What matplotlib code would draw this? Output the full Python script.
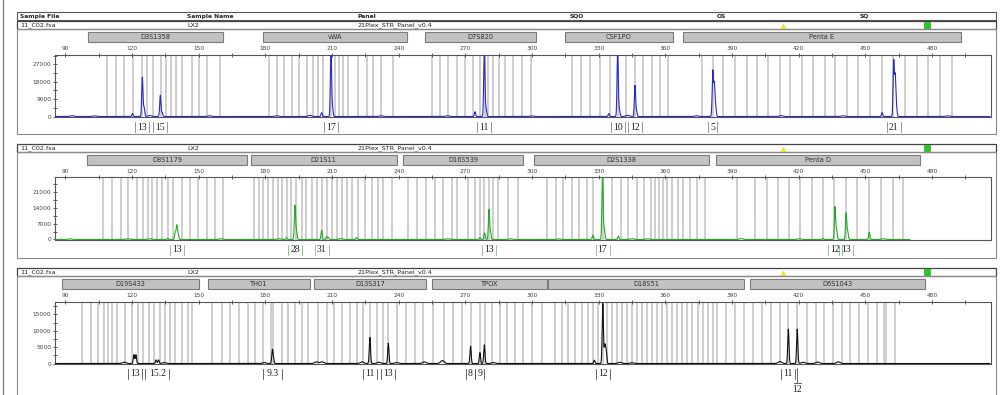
import numpy as np
import matplotlib.pyplot as plt
from matplotlib.patches import Rectangle
from matplotlib.transforms import blended_transform_factory

# header table
header_cols = ["Sample File", "Sample Name", "Panel", "SQO", "OS", "SQ"]
row_vals = ["11_C02.fsa", "LX2", "21Plex_STR_Panel_v0.4"]

# size axis (bp)
size_ticks = [90, 120, 150, 180, 210, 240, 270, 300, 330, 360, 390, 420, 450, 480]
size_minor = [105, 135, 165, 195, 225, 255, 285, 315, 345, 375, 405, 435, 465, 495]

# ---- panel 1 (blue dye)
p1_markers = ["D3S1358", "vWA", "D7S820", "CSF1PO", "Penta E"]
p1_marker_lo = [100.0, 179.0, 251.7, 314.8, 367.8]
p1_marker_hi = [161.0, 243.7, 301.7, 363.3, 493.0]
p1_bins = [108.5, 112.7, 116.3, 120.2, 124.3, 126.5, 129.2, 133.0, 135.1, 137.3, 139.7, 142.3, 146.8, 150.2, 153.5, 159.5,
           181.7, 185.0, 188.3, 191.8, 195.1, 198.5, 201.5, 203.8, 205.7, 209.5, 211.3, 213.1, 215.0, 217.3, 221.8, 225.6,
           228.5, 232.0, 237.5,
           254.8, 258.5, 262.3, 266.0, 269.8, 273.3, 276.5, 278.8, 280.3, 282.5, 285.1, 287.8, 291.5, 295.3, 299.3,
           317.8, 322.0, 326.0, 330.5, 335.0, 338.5, 342.2, 346.3, 350.0, 353.8, 357.5, 361.3,
           376.3, 381.5, 386.0, 391.3, 396.5, 401.0, 406.3, 411.5, 416.0, 421.3, 426.5, 431.8, 436.3, 441.5, 446.8, 452.0,
           457.3, 462.5, 467.8, 473.0, 478.3, 483.5, 488.8]
p1_peak_bp = [120.2, 124.6, 125.4, 132.7, 133.5, 205.3, 209.5, 210.2, 274.3, 278.5, 279.3,
              334.5, 338.5, 339.3, 346.3, 347.0, 381.3, 382.0, 382.6, 457.5, 462.7, 463.4, 464.0]
p1_peak_rfu = [1500, 20300, 4700, 10900, 2000, 2000, 34000, 4000, 2500, 34000, 4000,
               1500, 34000, 3500, 16000, 2500, 23400, 16600, 5000, 2000, 28600, 20800, 4000]
p1_bump_bp = [93, 103, 128, 155, 185, 200, 232, 262, 300, 343, 374, 412, 440, 487]
p1_bump_rfu = [400, 350, 500, 400, 400, 600, 350, 400, 300, 600, 400, 500, 400, 350]
p1_alleles = ["13", "15", "17", "11", "10", "12", "5", "21"]
p1_allele_bp = [124.6, 132.7, 209.5, 278.5, 338.5, 346.3, 381.3, 462.7]
p1_yticks = [0, 9000, 18000, 27000]

# ---- panel 2 (green dye)
p2_markers = ["D8S1179", "D21S11", "D16S539", "D2S1338", "Penta D"]
p2_marker_lo = [99.8, 173.3, 242.0, 300.8, 382.7]
p2_marker_hi = [171.5, 239.0, 295.7, 379.7, 474.5]
p2_bins = [107.0, 111.1, 114.8, 118.0, 122.0, 125.0, 127.0, 128.8, 131.0, 133.3, 136.0, 138.5, 142.3, 146.0, 149.8,
           153.5, 157.3, 161.0,
           175.0, 177.1, 179.0, 181.3, 183.5, 185.5, 187.3, 189.5, 191.5, 193.6, 196.3, 198.1, 200.8, 203.0, 205.3,
           207.5, 209.8, 212.0, 214.3, 216.5, 218.8, 221.8, 224.8, 227.8, 230.8, 233.0, 237.1,
           244.0, 248.0, 252.1, 256.3, 260.0, 263.8, 266.0, 271.0, 274.3, 276.5, 278.5, 280.6, 282.5, 284.8, 289.3, 293.5,
           306.6, 310.6, 314.0, 317.8, 321.2, 324.5, 327.5, 332.0, 335.8, 340.0, 343.3, 347.0, 350.5, 353.5, 355.3,
           357.1, 359.0, 360.5, 362.8, 365.5, 368.0, 371.0, 374.0, 377.8,
           392.0, 400.3, 405.5, 410.8, 415.7, 420.5, 425.8, 431.0, 436.0, 441.1, 446.3, 451.7, 457.0, 462.2, 467.0]
p2_peak_bp = [136.0, 139.4, 140.1, 140.7, 189.5, 193.3, 194.0, 205.3, 207.5, 208.3, 221.0,
              276.5, 278.6, 280.6, 281.3, 327.3, 331.7, 332.5, 338.8,
              431.0, 436.3, 437.0, 441.3, 442.0, 451.7]
p2_peak_rfu = [500, 3000, 6100, 2500, 700, 14900, 3500, 4000, 1200, 900, 800,
               800, 2900, 13100, 2900, 1900, 29000, 4400, 1500,
               500, 14300, 4000, 11600, 3500, 3200]
p2_bump_bp = [92, 118, 128, 160, 186, 214, 262, 290, 312, 345, 352, 394, 420, 458]
p2_bump_rfu = [300, 300, 350, 300, 300, 400, 300, 300, 250, 350, 300, 400, 300, 300]
p2_alleles = ["13", "28", "31", "13", "17", "12", "13"]
p2_allele_bp = [140.1, 193.3, 205.3, 280.6, 331.7, 436.3, 441.3]
p2_yticks = [0, 7000, 14000, 21000]

# ---- panel 3 (black/yellow dye)
p3_markers = ["D19S433", "TH01", "D13S317", "TPOX", "D18S51", "D6S1043"]
p3_marker_lo = [88.4, 154.1, 201.8, 254.9, 307.1, 398.0]
p3_marker_hi = [150.1, 200.0, 252.2, 306.7, 395.3, 476.8]
p3_bins = [97.3, 101.5, 104.8, 107.3, 109.3, 111.1, 113.0, 116.8, 120.1, 122.8, 125.0, 127.6, 130.0, 132.5, 134.8,
           137.0, 139.3, 142.3, 145.3, 146.8,
           156.1, 160.3, 164.0, 168.1, 172.0, 175.3, 179.0, 182.5, 183.5, 187.3, 190.3, 193.3, 196.3, 199.3,
           203.8, 207.5, 211.0, 214.3, 218.0, 221.0, 224.0, 227.0, 230.0, 233.0, 235.3, 239.0, 243.1, 247.3, 251.0,
           255.5, 260.5, 264.5, 268.6, 272.5, 276.5, 278.8, 281.8, 285.5, 288.5, 292.3, 296.0, 299.8, 304.3,
           310.3, 313.3, 316.3, 319.3, 322.3, 325.3, 327.5, 329.8, 332.0, 333.5, 335.8, 338.0, 340.3, 342.5, 344.8,
           347.0, 349.3, 351.5, 353.8, 356.0, 358.3, 360.5, 362.8, 365.0, 367.3, 369.5, 371.8, 374.8, 377.0, 379.3,
           381.5, 383.3, 387.2, 391.3, 395.3,
           399.3, 403.3, 407.3, 411.5, 415.3, 419.3, 423.5, 427.7, 431.3, 435.2, 439.3, 443.0, 447.2, 451.3, 455.0,
           458.3, 459.2, 463.3]
p3_peak_bp = [120.8, 121.7, 130.8, 131.9, 183.1, 183.6, 227.0, 235.3,
              272.3, 276.5, 278.5, 328.0, 331.8, 332.7, 333.3, 415.3, 419.3]
p3_peak_rfu = [2700, 2700, 1100, 1100, 4000, 1500, 8000, 6200,
               5300, 3300, 5700, 1000, 18300, 5500, 4000, 10500, 10500]
p3_bump_bp = [116.5, 134.5, 179.5, 203.0, 205.5, 223.5, 231.0, 239.0, 251.5, 259.6, 282.5, 339.5, 345.0,
              411.5, 422.0, 428.5, 437.8]
p3_bump_rfu = [400, 300, 300, 500, 500, 500, 400, 300, 500, 900, 300, 400, 250, 600, 400, 450, 500]
p3_alleles = ["13", "15.2", "9.3", "11", "13", "8", "9", "12", "11", "12"]
p3_allele_bp = [121.3, 131.4, 183.1, 227.0, 235.3, 272.3, 276.5, 332.0, 415.3, 419.3]
p3_allele_row = [0, 0, 0, 0, 0, 0, 0, 0, 0, 1]
p3_yticks = [0, 5000, 10000, 15000]

panels = [
    dict(markers=p1_markers, lo=p1_marker_lo, hi=p1_marker_hi, bins=p1_bins,
         pk=p1_peak_bp, pr=p1_peak_rfu, bk=p1_bump_bp, br=p1_bump_rfu,
         al=p1_alleles, ab=p1_allele_bp, row=[0] * len(p1_alleles), yt=p1_yticks,
         ylim=(-250, 32100), color="#2828cc", lcol="#8080b0", end=506, top=21.0, box=105.5),
    dict(markers=p2_markers, lo=p2_marker_lo, hi=p2_marker_hi, bins=p2_bins,
         pk=p2_peak_bp, pr=p2_peak_rfu, bk=p2_bump_bp, br=p2_bump_rfu,
         al=p2_alleles, ab=p2_allele_bp, row=[0] * len(p2_alleles), yt=p2_yticks,
         ylim=(-220, 27200), color="#22aa22", lcol="#80c080", end=470, top=144.0, box=106.5),
    dict(markers=p3_markers, lo=p3_marker_lo, hi=p3_marker_hi, bins=p3_bins,
         pk=p3_peak_bp, pr=p3_peak_rfu, bk=p3_bump_bp, br=p3_bump_rfu,
         al=p3_alleles, ab=p3_allele_bp, row=p3_allele_row, yt=p3_yticks,
         ylim=(-150, 18950), color="#111111", lcol="#505050", end=506, top=268.0, box=140.0),
]

W, H = 1000, 395
PX_PER_BP = 2.2222
fig = plt.figure(figsize=(10, 3.95), dpi=100)
fig.patch.set_facecolor("white")

# overlay in pixel coords for frames and header
ov = fig.add_axes([0, 0, 1, 1])
ov.set_xlim(0, W)
ov.set_ylim(H, 0)
ov.axis("off")

ov.plot([3, 3], [0, H], color="#808080", lw=1.0)
ov.add_patch(Rectangle((17, 11.7), 979, 8.6, fill=False, ec="#555555", lw=0.8))
for t, x in zip(header_cols, [20, 187, 358, 570, 717, 860]):
    ov.text(x, 18.0, t, fontsize=4.3, weight="bold", va="baseline", color="#222222")

x = np.linspace(84, 507, 12000)

for p in panels:
    rt = p["top"]
    # sample row
    ov.add_patch(Rectangle((17, rt), 979, 7.5, fill=False, ec="#444444", lw=0.9))
    for t, xx in zip(row_vals, [20, 187, 358]):
        ov.text(xx, rt + 5.6, t, fontsize=4.6, va="baseline", color="#222222")
    ov.plot(783, rt + 4.6, marker="^", ms=3.2, color="#f2f200", mec="#d8d800", mew=0.4)
    ov.plot(927, rt + 3.6, marker="s", ms=4.3, color="#22cc22", mec="#119911", mew=0.4)
    ov.add_patch(Rectangle((17, rt + 7.5), 979, p["box"], fill=False, ec="#8a8a8a", lw=0.8))

    pb = rt + 96.0   # plot bottom px
    ph = 62.5        # plot height px
    ax = fig.add_axes([55 / W, 1 - pb / H, 936 / W, ph / H])
    ax.set_xlim(85.3, 506.5)
    ax.set_ylim(*p["ylim"])

    def ay(py):
        return (pb - py) / ph

    tr = blended_transform_factory(ax.transData, ax.transAxes)

    for b in p["bins"]:
        ax.axvline(b, color="#c4c4c4", lw=1.15, zorder=1)

    y = np.zeros_like(x)
    for c, a in zip(p["pk"], p["pr"]):
        y += a * np.exp(-0.5 * ((x - c) / 0.28) ** 2)
    for c, a in zip(p["bk"], p["br"]):
        y += a * np.exp(-0.5 * ((x - c) / 0.8) ** 2)
    m = x <= p["end"]
    ax.plot(x[m], y[m], color=p["color"], lw=0.8, zorder=3)

    ax.xaxis.tick_top()
    ax.set_xticks(size_ticks)
    ax.set_xticks(size_minor, minor=True)
    ax.set_yticks(p["yt"])
    ax.set_yticks([v + (p["yt"][1] - p["yt"][0]) / 2 for v in p["yt"]], minor=True)
    ax.tick_params(axis="x", which="both", direction="inout", length=3, width=0.6,
                   pad=1.2, labelsize=4.2, colors="#444444")
    ax.tick_params(axis="y", which="both", direction="inout", length=3, width=0.6,
                   pad=1.0, labelsize=4.2, colors="#444444")
    for s in ax.spines.values():
        s.set_color("#555555")
        s.set_linewidth(0.8)

    # marker bars
    for name, lo, hi in zip(p["markers"], p["lo"], p["hi"]):
        ax.add_patch(Rectangle((lo, ay(rt + 20.8)), hi - lo, ay(rt + 11.3) - ay(rt + 20.8),
                               transform=tr, clip_on=False, fc="#c2c2c2", ec="#7a7a7a", lw=0.8))
        ax.text((lo + hi) / 2, ay(rt + 16.0), name, transform=tr, ha="center", va="center",
                fontsize=4.8, color="#333333", clip_on=False)

    # allele calls
    ly = rt + 106.0
    for t, b, r in zip(p["al"], p["ab"], p["row"]):
        hw = (2.5 * len(t) + 2.0) / PX_PER_BP
        if r == 0:
            for xe in (b - hw, b + hw):
                ax.plot([xe, xe], [ay(ly - 5), ay(ly + 5)], transform=tr, clip_on=False,
                        color=p["lcol"], lw=0.6)
            ax.text(b, ay(ly), t, transform=tr, ha="center", va="center", fontsize=7,
                    family="Liberation Serif", color="#222222", clip_on=False)
        else:
            ax.plot([b, b], [ay(ly - 6), ay(ly + 9)], transform=tr, clip_on=False,
                    color=p["lcol"], lw=0.6)
            ax.plot([b - 1.6, b + 1.6], [ay(ly + 9), ay(ly + 9)], transform=tr, clip_on=False,
                    color=p["lcol"], lw=0.6)
            ax.text(b, ay(ly + 15), t, transform=tr, ha="center", va="center", fontsize=7,
                    family="Liberation Serif", color="#222222", clip_on=False)

fig.savefig("out.png", dpi=100, facecolor="white")
